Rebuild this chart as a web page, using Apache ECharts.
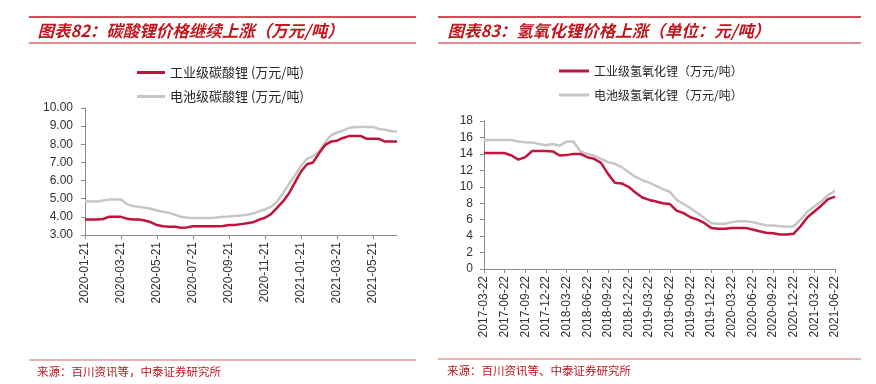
<!DOCTYPE html>
<html>
<head>
<meta charset="utf-8">
<script src="https://cdn.jsdelivr.net/npm/echarts@6/dist/echarts.min.js"></script>
<style>
html,body{margin:0;padding:0;background:#fff;}
#c{width:876px;height:384px;}
</style>
</head>
<body>
<div id="c"></div>
<script>
// ---- Left chart: 碳酸锂 ----
var leftDates = [
"2020-01-21","2020-02-01","2020-02-11","2020-02-21","2020-03-01","2020-03-11",
"2020-03-21","2020-04-01","2020-04-11","2020-04-21","2020-05-01","2020-05-11",
"2020-05-21","2020-06-01","2020-06-11","2020-06-21","2020-07-01","2020-07-11",
"2020-07-21","2020-08-01","2020-08-11","2020-08-21","2020-09-01","2020-09-11",
"2020-09-21","2020-10-01","2020-10-11","2020-10-21","2020-11-01","2020-11-11",
"2020-11-21","2020-12-01","2020-12-11","2020-12-21","2021-01-01","2021-01-11",
"2021-01-21","2021-02-01","2021-02-11","2021-02-21","2021-03-01","2021-03-11",
"2021-03-21","2021-04-01","2021-04-11","2021-04-21","2021-05-01","2021-05-11",
"2021-05-21","2021-06-01","2021-06-11","2021-06-21","2021-07-01"
];
var industrialCarbonate = [
3.85,3.85,3.85,3.88,4.00,4.00,4.00,3.90,3.85,3.85,3.80,3.70,
3.55,3.48,3.45,3.45,3.40,3.42,3.48,3.48,3.48,3.48,3.48,3.50,
3.55,3.55,3.60,3.65,3.70,3.85,3.95,4.15,4.50,4.85,5.30,5.90,
6.50,6.90,7.00,7.50,7.95,8.15,8.20,8.35,8.45,8.45,8.45,8.30,
8.30,8.30,8.15,8.15,8.15
];
var batteryCarbonate = [
4.84,4.84,4.84,4.90,4.95,4.95,4.95,4.70,4.60,4.55,4.50,4.45,
4.35,4.28,4.22,4.12,4.00,3.95,3.94,3.94,3.94,3.94,3.96,4.00,
4.02,4.05,4.07,4.12,4.18,4.30,4.42,4.55,4.85,5.30,5.80,6.30,
6.80,7.20,7.35,7.60,8.10,8.50,8.65,8.75,8.90,8.95,8.95,8.95,
8.95,8.85,8.80,8.72,8.70
];
var leftNames = ["工业级碳酸锂 (万元/吨)", "电池级碳酸锂 (万元/吨)"];

// ---- Right chart: 氢氧化锂 ----
var rightDates = [
"2017-03-22","2017-04-22","2017-05-22","2017-06-22","2017-07-22","2017-08-22",
"2017-09-22","2017-10-22","2017-11-22","2017-12-22","2018-01-22","2018-02-22",
"2018-03-22","2018-04-22","2018-05-22","2018-06-22","2018-07-22","2018-08-22",
"2018-09-22","2018-10-22","2018-11-22","2018-12-22","2019-01-22","2019-02-22",
"2019-03-22","2019-04-22","2019-05-22","2019-06-22","2019-07-22","2019-08-22",
"2019-09-22","2019-10-22","2019-11-22","2019-12-22","2020-01-22","2020-02-22",
"2020-03-22","2020-04-22","2020-05-22","2020-06-22","2020-07-22","2020-08-22",
"2020-09-22","2020-10-22","2020-11-22","2020-12-22","2021-01-22","2021-02-22",
"2021-03-22","2021-04-22","2021-05-22","2021-06-22"
];
var industrialHydroxide = [
14.1,14.1,14.1,14.1,13.8,13.3,13.6,14.35,14.35,14.35,14.3,13.8,
13.85,14.0,14.0,13.6,13.4,12.9,11.6,10.5,10.4,10.0,9.3,8.7,
8.4,8.2,8.0,7.9,7.1,6.8,6.3,6.0,5.6,5.0,4.9,4.9,
5.0,5.0,5.0,4.8,4.6,4.4,4.35,4.2,4.2,4.3,5.2,6.3,
7.0,7.7,8.5,8.8
];
var batteryHydroxide = [
15.7,15.7,15.7,15.7,15.7,15.5,15.4,15.4,15.2,15.05,15.2,15.0,
15.5,15.5,14.3,14.0,13.8,13.4,13.0,12.8,12.4,11.8,11.2,10.8,
10.5,10.1,9.7,9.4,8.4,7.9,7.4,6.8,6.2,5.6,5.5,5.5,
5.7,5.8,5.8,5.7,5.5,5.3,5.3,5.2,5.15,5.2,6.0,7.0,
7.6,8.2,9.0,9.5
];
var rightNames = ["工业级氢氧化锂（万元/吨）", "电池级氢氧化锂（万元/吨）"];

var titleLeft = "图表82：碳酸锂价格继续上涨（万元/吨）";
var titleRight = "图表83：氢氧化锂价格上涨（单位：元/吨）";
var sourceLeft = "来源：百川资讯等，中泰证券研究所";
var sourceRight = "来源：百川资讯等、中泰证券研究所";

var RED = "#C0143C";
var GRAY = "#C6C6C6";
var TITLE_RED = "#C0161C";
var AX = "#8C8C8C";
var LBL = "#333333";
var FONT = "'Liberation Sans', Arial, sans-serif";
var CJK = "'Noto Sans CJK SC', 'Liberation Sans', sans-serif";

var chart = echarts.init(document.getElementById('c'), null, {renderer: 'canvas'});

function hline(x1, x2, y, color, w) {
  return {type: 'line', shape: {x1: x1, y1: y, x2: x2, y2: y}, style: {stroke: color, lineWidth: w}, silent: true};
}

var option = {
  animation: false,
  backgroundColor: '#ffffff',
  title: [
    {text: sourceLeft, left: 37, top: 366, padding: 0,
     textStyle: {color: TITLE_RED, fontSize: 11.5, fontWeight: 'normal', fontFamily: CJK}},
    {text: sourceRight, left: 447, top: 365, padding: 0,
     textStyle: {color: TITLE_RED, fontSize: 11.5, fontWeight: 'normal', fontFamily: CJK}}
  ],
  graphic: [
    hline(29, 416, 17, '#C0161C', 1.5),
    hline(29, 416, 43, '#C0161C', 1),
    hline(29, 416, 360, '#D86A6A', 1),
    hline(438, 861, 17, '#C0161C', 1.5),
    hline(438, 861, 43, '#C0161C', 1),
    hline(438, 861, 359, '#D86A6A', 1)
  ],
  legend: [
    {orient: 'vertical', left: 137, top: 66, itemWidth: 28, itemHeight: 3, itemGap: 11,
     icon: 'rect', data: leftNames, padding: 0,
     textStyle: {color: '#262626', fontSize: 13, fontFamily: CJK}},
    {orient: 'vertical', left: 559, top: 65, itemWidth: 30, itemHeight: 3, itemGap: 12,
     icon: 'rect', data: rightNames, padding: 0,
     textStyle: {color: '#262626', fontSize: 12, fontFamily: CJK}}
  ],
  grid: [
    {left: 85, right: 479, top: 108, bottom: 149, containLabel: false},
    {left: 484, right: 41, top: 121, bottom: 115, containLabel: false}
  ],
  xAxis: [
    {type: 'category', gridIndex: 0, data: leftDates, boundaryGap: false,
     axisLine: {lineStyle: {color: AX, width: 1}},
     axisTick: {interval: 5, length: 4, lineStyle: {color: AX}},
     axisLabel: {interval: 5, rotate: 90, color: LBL, fontSize: 12, fontFamily: FONT, margin: 7}},
    {type: 'category', gridIndex: 1, data: rightDates, boundaryGap: false,
     axisLine: {lineStyle: {color: AX, width: 1}},
     axisTick: {interval: 2, length: 4, lineStyle: {color: AX}},
     axisLabel: {interval: 2, rotate: 90, color: LBL, fontSize: 12, fontFamily: FONT, margin: 7}}
  ],
  yAxis: [
    {type: 'value', gridIndex: 0, min: 3, max: 10, interval: 1,
     axisLine: {show: true, lineStyle: {color: AX}},
     axisTick: {show: true, length: 4, lineStyle: {color: AX}},
     splitLine: {show: false},
     axisLabel: {color: LBL, fontSize: 12, fontFamily: FONT, margin: 12,
                 formatter: function (v) { return v.toFixed(2); }}},
    {type: 'value', gridIndex: 1, min: 0, max: 18, interval: 2,
     axisLine: {show: true, lineStyle: {color: AX}},
     axisTick: {show: true, length: 4, lineStyle: {color: AX}},
     splitLine: {show: false},
     axisLabel: {color: LBL, fontSize: 12, fontFamily: FONT, margin: 11}}
  ],
  series: [
    {name: leftNames[1], type: 'line', xAxisIndex: 0, yAxisIndex: 0, data: batteryCarbonate,
     showSymbol: false, lineStyle: {color: GRAY, width: 2.5}, itemStyle: {color: GRAY}, z: 2},
    {name: leftNames[0], type: 'line', xAxisIndex: 0, yAxisIndex: 0, data: industrialCarbonate,
     showSymbol: false, lineStyle: {color: RED, width: 2.5}, itemStyle: {color: RED}, z: 3},
    {name: rightNames[1], type: 'line', xAxisIndex: 1, yAxisIndex: 1, data: batteryHydroxide,
     showSymbol: false, lineStyle: {color: GRAY, width: 2.5}, itemStyle: {color: GRAY}, z: 2},
    {name: rightNames[0], type: 'line', xAxisIndex: 1, yAxisIndex: 1, data: industrialHydroxide,
     showSymbol: false, lineStyle: {color: RED, width: 2.5}, itemStyle: {color: RED}, z: 3}
  ]
};
chart.setOption(option);

// Slanted (italic-looking) panel titles, drawn as real text with a skew transform
function addTitle(str, x, y) {
  var t = new echarts.graphic.Text({
    x: x, y: y, skewX: -0.25, silent: true, z: 100,
    style: {text: str, fill: TITLE_RED, font: "bold 16.5px " + CJK,
            verticalAlign: 'middle', align: 'left'}
  });
  chart.getZr().add(t);
}
addTitle(titleLeft, 39, 31);
addTitle(titleRight, 449, 31);
</script>
</body>
</html>
